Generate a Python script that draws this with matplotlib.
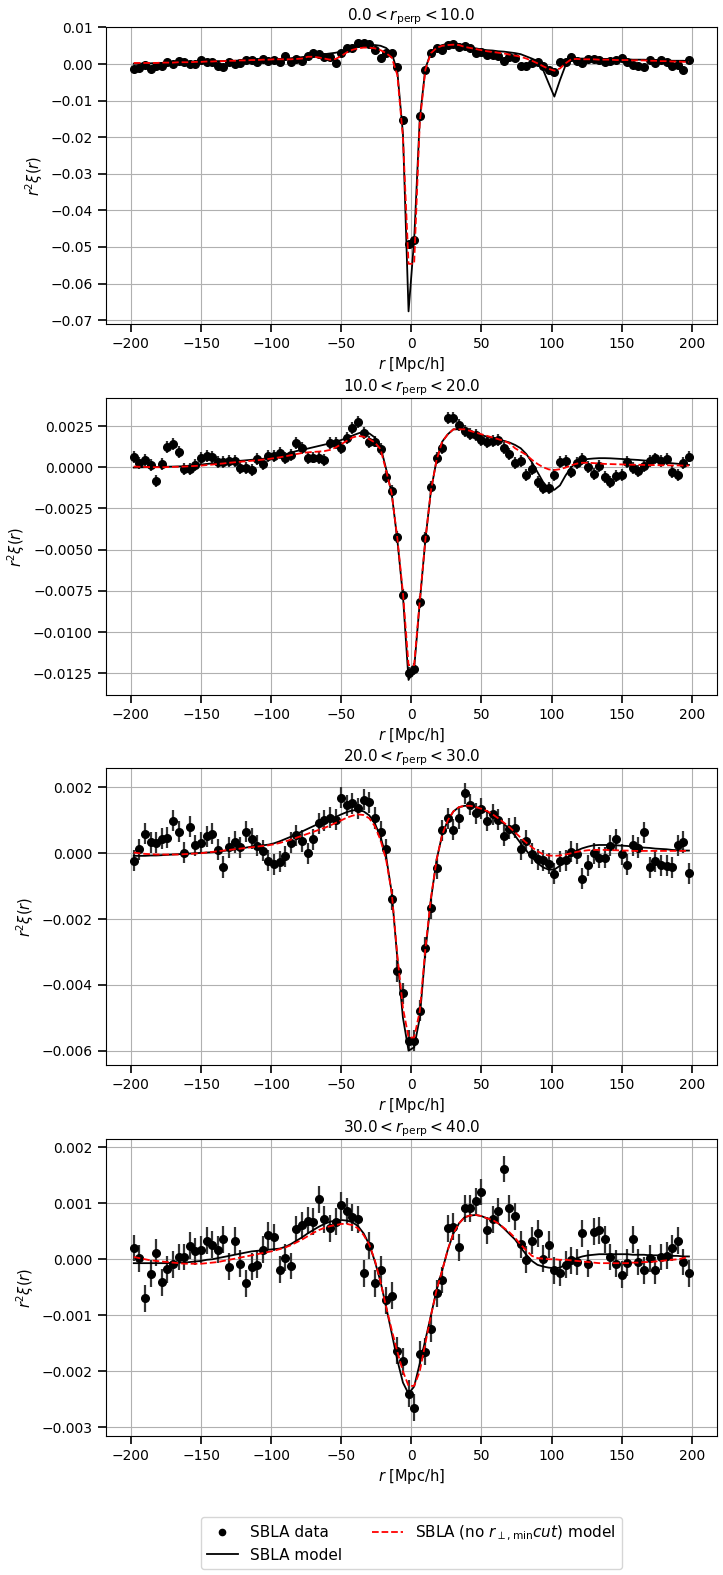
import numpy as np
import matplotlib
matplotlib.use("Agg")
import matplotlib.pyplot as plt
from matplotlib.lines import Line2D

r = np.arange(-198, 199, 4)

titles = [r"$0.0 < r_{\rm perp} < 10.0$", r"$10.0 < r_{\rm perp} < 20.0$",
          r"$20.0 < r_{\rm perp} < 30.0$", r"$30.0 < r_{\rm perp} < 40.0$"]

# ---------------- panel 1 ----------------
data1 = [-0.00146, -0.0010, -0.00037, -0.0013, -0.0006, -0.0004, 0.00046, -0.0001, 0.0009, 0.0005,
         -0.0001, 0.0, 0.0011, 0.0005, 0.0005, -0.0005, -0.0009, 0.0005, 0.0, 0.0003,
         0.0011, 0.0011, 0.0005, 0.0014, 0.0008, 0.0011, 0.0007, 0.0022, 0.0005, 0.0013,
         0.0008, 0.0022, 0.0029, 0.0027, 0.0019, 0.0018, 0.0004, 0.0029, 0.0043, 0.0043,
         0.0058, 0.0058, 0.0055, 0.0038, 0.0016, 0.0029, 0.0030, -0.0007, -0.0152, -0.0491,
         -0.0480, -0.0141, -0.0015, 0.0031, 0.0043, 0.0038, 0.0052, 0.0055, 0.0046, 0.0049,
         0.0043, 0.0029, 0.0032, 0.0025, 0.0025, 0.0022, 0.0008, 0.0018, 0.0017, -0.0005,
         -0.0005, 0.0004, 0.0005, -0.0005, -0.0017, -0.0021, 0.0005, 0.0005, 0.0018, 0.0008,
         0.0002, 0.0013, 0.0013, 0.0011, 0.0006, 0.0009, 0.0011, 0.0016, 0.0005, -0.0003,
         -0.0005, -0.0009, 0.0011, 0.0002, 0.0011, 0.0005, -0.0005, -0.0003, -0.0015, 0.0011]
err1 = [0.0004] * 100
model1 = [0.0001, 0.0001, 0.0002, 0.0002, 0.0003, 0.0003, 0.0004, 0.0004, 0.0005, 0.0005,
          0.0005, 0.0006, 0.0006, 0.0007, 0.0007, 0.0008, 0.0008, 0.0009, 0.0009, 0.0010,
          0.0010, 0.0011, 0.0011, 0.0012, 0.0012, 0.0013, 0.0014, 0.0015, 0.0016, 0.0017,
          0.0019, 0.0021, 0.0023, 0.0025, 0.0027, 0.0029, 0.0031, 0.0034, 0.0038, 0.0043,
          0.0048, 0.0051, 0.0052, 0.0052, 0.0050, 0.0044, 0.0030, -0.0020, -0.0190, -0.0676,
          -0.0480, -0.0150, -0.0012, 0.0032, 0.0046, 0.0052, 0.0055, 0.0055, 0.0054, 0.0048,
          0.0045, 0.0043, 0.0040, 0.0038, 0.0037, 0.0035, 0.0034, 0.0032, 0.0030, 0.0027,
          0.0021, 0.0015, 0.0008, -0.0016, -0.0053, -0.0089, -0.0044, -0.0003, 0.0013, 0.0015,
          0.0015, 0.0015, 0.0015, 0.0014, 0.0014, 0.0014, 0.0013, 0.0013, 0.0013, 0.0012,
          0.0012, 0.0012, 0.0011, 0.0011, 0.0010, 0.0010, 0.0009, 0.0009, 0.0009, 0.0008]
nocut1 = [0.0003, 0.0003, 0.0003, 0.0003, 0.0003, 0.0004, 0.0004, 0.0004, 0.0005, 0.0005,
          0.0005, 0.0006, 0.0006, 0.0007, 0.0007, 0.0008, 0.0008, 0.0009, 0.0009, 0.0010,
          0.0010, 0.0011, 0.0011, 0.0012, 0.0012, 0.0013, 0.0013, 0.0013, 0.0013, 0.0014,
          0.0015, 0.0020, 0.0020, 0.0018, 0.0015, 0.0012, 0.0014, 0.0022, 0.0032, 0.0039,
          0.0043, 0.0045, 0.0045, 0.0043, 0.0038, 0.0030, 0.0018, -0.0030, -0.0200, -0.0546,
          -0.0546, -0.0160, -0.0015, 0.0030, 0.0044, 0.0050, 0.0052, 0.0053, 0.0052, 0.0047,
          0.0044, 0.0041, 0.0038, 0.0035, 0.0033, 0.0031, 0.0029, 0.0026, 0.0023, 0.0020,
          0.0015, 0.0009, 0.0002, -0.0006, -0.0013, -0.0018, -0.0012, 0.0002, 0.0013, 0.0014,
          0.0013, 0.0013, 0.0013, 0.0012, 0.0012, 0.0012, 0.0011, 0.0011, 0.0011, 0.0010,
          0.0010, 0.0010, 0.0009, 0.0009, 0.0008, 0.0008, 0.0007, 0.0007, 0.0006, 0.0006]

# ---------------- panel 2 ----------------
data2 = [0.00063, 0.00024, 0.00044, 0.00012, -0.00083, 0.00018, 0.00123, 0.00141, 0.00093, -0.00012,
         -0.00012, 0.00012, 0.00055, 0.00069, 0.00061, 0.00032, 0.00034, 0.00038, 0.00038, -0.00006,
         -0.00004, -0.00016, 0.00049, 0.00018, 0.00069, 0.00067, 0.00085, 0.00057, 0.00073, 0.00146,
         0.00115, 0.00055, 0.00059, 0.00055, 0.00044, 0.00148, 0.00146, 0.00115, 0.00176, 0.00238,
         0.00273, 0.00206, 0.00152, 0.00156, 0.00109, -0.00061, -0.00146, -0.00424, -0.00772, -0.01249,
         -0.01221, -0.00816, -0.0043, -0.00121, 0.00055, 0.00115, 0.00297, 0.00297, 0.00257, 0.00222,
         0.00202, 0.00196, 0.00166, 0.00152, 0.0016, 0.00166, 0.00119, 0.00081, 0.00024, 0.00038,
         -0.00049, -0.00012, -0.00089, -0.00127, -0.00127, -0.00046, 0.00032, 0.00038, -0.0003, 0.00028,
         0.00049, 0.00004, -0.0004, 0.00008, -0.00057, -0.00089, -0.00055, -0.00049, 0.00034, -0.00006,
         -0.00022, 0.00008, 0.00038, 0.00053, 0.0004, 0.00049, -0.00028, -0.00046, 0.00024, 0.00065]
err2 = [0.00036] * 100
model2 = [-0.00002, -0.00001, 0.0, 0.0, 0.00001, 0.00002, 0.00003, 0.00004, 0.00005, 0.00006,
          0.0001, 0.00013, 0.00016, 0.0002, 0.00023, 0.00026, 0.0003, 0.00033, 0.00036, 0.00039,
          0.00042, 0.00045, 0.00048, 0.00051, 0.00055, 0.0006, 0.00068, 0.00078, 0.00088, 0.00098,
          0.00105, 0.00113, 0.00121, 0.00129, 0.00137, 0.00145, 0.00154, 0.00165, 0.00178, 0.00192,
          0.00205, 0.00216, 0.00205, 0.0018, 0.00125, -0.0001, -0.0016, -0.0044, -0.0078, -0.0129,
          -0.0122, -0.0082, -0.0044, -0.0014, 0.00044, 0.00155, 0.0020, 0.0023, 0.0023, 0.0023,
          0.00215, 0.00205, 0.00195, 0.00185, 0.00178, 0.0017, 0.0016, 0.0015, 0.00135, 0.00115,
          0.0008, 0.0003, -0.0003, -0.0009, -0.0013, -0.00137, -0.0011, -0.0005, 0.0, 0.0003,
          0.00042, 0.0005, 0.00053, 0.00055, 0.00055, 0.00054, 0.00052, 0.0005, 0.00048, 0.00046,
          0.00044, 0.00041, 0.00038, 0.00035, 0.00031, 0.00028, 0.00024, 0.00021, 0.00017, 0.00014]
nocut2 = [0.00004, 0.00003, 0.00002, 0.00001, 0.0, 0.0, 0.00001, 0.00002, 0.00003, 0.00004,
          0.00006, 0.00008, 0.0001, 0.00013, 0.00016, 0.0002, 0.00023, 0.00027, 0.0003, 0.00033,
          0.00036, 0.00039, 0.00042, 0.00046, 0.0005, 0.00055, 0.0006, 0.00066, 0.00073, 0.0008,
          0.00086, 0.0009, 0.00093, 0.00095, 0.00098, 0.00105, 0.0012, 0.0014, 0.0016, 0.0018,
          0.0019, 0.00185, 0.0017, 0.0015, 0.0011, -0.0002, -0.0016, -0.0043, -0.0076, -0.0120,
          -0.0120, -0.0081, -0.0044, -0.0014, 0.00044, 0.00155, 0.0020, 0.0023, 0.0023, 0.0023,
          0.0022, 0.0021, 0.0020, 0.0019, 0.0018, 0.0017, 0.0016, 0.00145, 0.00115, 0.00095,
          0.00075, 0.00045, 0.0002, 0.0, -0.00013, -0.00017, -0.00012, -0.00002, 0.00012, 0.00022,
          0.00027, 0.00027, 0.00025, 0.00023, 0.0002, 0.00019, 0.00018, 0.00017, 0.00016, 0.00015,
          0.00015, 0.00014, 0.00013, 0.00013, 0.00012, 0.00012, 0.00011, 0.00011, 0.0001, 0.0001]

# ---------------- panel 3 ----------------
data3 = [-0.00023, 0.00012, 0.00059, 0.00033, 0.00032, 0.00044, 0.00047, 0.00098, 0.00065, 0.00001,
         0.00081, 0.00024, 0.00032, 0.00051, 0.00059, 0.0001, -0.00042, 0.00018, 0.00034, 0.00018,
         0.00065, 0.00044, 0.00022, 0.00007, -0.00023, -0.00033, -0.00026, -0.0001, 0.00032, 0.00055,
         0.00037, 0.0, 0.00043, 0.00091, 0.001, 0.00108, 0.00101, 0.00168, 0.00145, 0.00152,
         0.00137, 0.00162, 0.00155, 0.00107, 0.00065, 0.00012, -0.0014, -0.00358, -0.00425, -0.0057,
         -0.0057, -0.00479, -0.00287, -0.00167, -0.00046, 0.00069, 0.00106, 0.00071, 0.00106, 0.00182,
         0.00147, 0.00122, 0.00135, 0.00098, 0.00119, 0.00101, 0.00053, 0.00075, 0.00077, 0.00012,
         0.00038, -0.00002, -0.00018, -0.00022, -0.00032, -0.00062, -0.00024, -0.00022, 0.00004, -0.00002,
         -0.00078, -0.00036, 0.0, -0.00014, -0.00014, 0.00022, 0.00043, -0.00003, -0.00035, 0.00024,
         0.00016, 0.00063, -0.00043, -0.00024, -0.00036, -0.00038, -0.00043, 0.00024, 0.00034, -0.00061]
err3 = [0.00032] * 100
model3 = [-0.00008, -0.00008, -0.00008, -0.00007, -0.00007, -0.00006, -0.00005, -0.00004, -0.00003, -0.00002,
          -0.00001, 0.0, 0.00001, 0.00002, 0.00003, 0.00005, 0.00007, 0.00009, 0.00011, 0.00014,
          0.00017, 0.0002, 0.00022, 0.00024, 0.00026, 0.0003, 0.00036, 0.00043, 0.0005, 0.00058,
          0.00066, 0.00074, 0.00082, 0.0009, 0.00097, 0.00104, 0.0011, 0.00118, 0.00125, 0.0013,
          0.00131, 0.00127, 0.00115, 0.0009, 0.0005, -0.0001, -0.0012, -0.0032, -0.0050, -0.0060,
          -0.0059, -0.0050, -0.0030, -0.0014, -0.0002, 0.00056, 0.001, 0.00127, 0.0014, 0.00144,
          0.00144, 0.0014, 0.00134, 0.00126, 0.00116, 0.00103, 0.00089, 0.00073, 0.00053, 0.0003,
          0.00008, -0.00012, -0.0003, -0.00043, -0.0005, -0.0005, -0.00038, -0.0002, -0.00003, 0.00008,
          0.00015, 0.0002, 0.00024, 0.00025, 0.00025, 0.00025, 0.00024, 0.00023, 0.00022, 0.0002,
          0.00019, 0.00017, 0.00016, 0.00014, 0.00013, 0.00012, 0.0001, 0.00009, 0.00008, 0.00008]
nocut3 = [0.00002, 0.0, -0.00002, -0.00003, -0.00004, -0.00004, -0.00004, -0.00004, -0.00004, -0.00003,
          -0.00002, -0.00001, 0.0, 0.00002, 0.00004, 0.00006, 0.00008, 0.0001, 0.00012, 0.00014,
          0.00016, 0.00018, 0.0002, 0.00022, 0.00024, 0.00027, 0.00031, 0.00036, 0.00041, 0.00047,
          0.00053, 0.00059, 0.00065, 0.00071, 0.00077, 0.00084, 0.00092, 0.001, 0.00108, 0.00114,
          0.00118, 0.00116, 0.00106, 0.00082, 0.0004, -0.0002, -0.0012, -0.0031, -0.0047, -0.0056,
          -0.0056, -0.0048, -0.0029, -0.00135, -0.0002, 0.00056, 0.001, 0.00127, 0.0014, 0.00144,
          0.00144, 0.0014, 0.00135, 0.00128, 0.00118, 0.00106, 0.00093, 0.00079, 0.00063, 0.00047,
          0.00032, 0.00018, 0.00006, -0.00003, -0.00007, -0.00008, -0.00007, -0.00004, 0.0, 0.00004,
          0.00007, 0.00009, 0.0001, 0.0001, 0.0001, 0.00009, 0.00009, 0.00008, 0.00008, 0.00007,
          0.00007, 0.00007, 0.00007, 0.00007, 0.00007, 0.00007, 0.00007, 0.00007, 0.00007, 0.00007]

# ---------------- panel 4 ----------------
data4 = [0.0002, 0.00002, -0.0007, -0.00026, 0.00012, -0.00041, -0.00018, -0.00009, 0.00004, 0.00004,
         0.00024, 0.00014, 0.00017, 0.00033, 0.00026, 0.00017, 0.00036, -0.00013, 0.00033, -0.00008,
         -0.00043, -0.00013, -0.0001, 0.00017, 0.00043, 0.00039, -0.00019, 0.00003, -0.00012, 0.00054,
         0.00061, 0.00069, 0.00067, 0.00107, 0.00071, 0.00055, 0.00067, 0.00096, 0.00086, 0.00075,
         0.00071, -0.00025, 0.00024, -0.00043, -0.00019, -0.00073, -0.00065, -0.00163, -0.00182, -0.0024,
         -0.00265, -0.00169, -0.00165, -0.00124, -0.00061, -0.00037, 0.00055, 0.00058, 0.00021, 0.00091,
         0.00091, 0.00104, 0.0012, 0.00052, 0.00071, 0.00086, 0.00161, 0.00091, 0.00077, 0.00027,
         -0.00001, 0.00033, 0.00046, 0.00001, 0.00026, -0.0002, -0.00024, -0.0001, -0.00002, -0.00005,
         0.00046, -0.00008, 0.00049, 0.00052, 0.00036, 0.00004, -0.00008, -0.00028, -0.00006, 0.00036,
         -0.00005, -0.0002, 0.00002, -0.0002, 0.00004, 0.00006, 0.0002, 0.00033, -0.00005, -0.00025]
err4 = [0.00024] * 100
model4 = [-0.00007, -0.00007, -0.00007, -0.00007, -0.00007, -0.00007, -0.00007, -0.00006, -0.00006, -0.00006,
          -0.00005, -0.00004, -0.00003, -0.00001, 0.0, 0.00002, 0.00004, 0.00006, 0.00008, 0.0001,
          0.00012, 0.00014, 0.00015, 0.00016, 0.00017, 0.00018, 0.00019, 0.00022, 0.00027, 0.00033,
          0.00039, 0.00046, 0.00052, 0.00058, 0.00063, 0.00067, 0.00069, 0.0007, 0.00069, 0.00066,
          0.00059, 0.00046, 0.00026, -0.00004, -0.0004, -0.00085, -0.00132, -0.0018, -0.0022, -0.0024,
          -0.00227, -0.00186, -0.00144, -0.001, -0.00055, -0.0002, 0.00017, 0.00046, 0.00064, 0.00075,
          0.00078, 0.00079, 0.00077, 0.00073, 0.00071, 0.00064, 0.00055, 0.00045, 0.00035, 0.00021,
          0.00008, -0.00003, -0.0001, -0.00013, -0.00015, -0.00016, -0.00015, -0.00009, -0.00003, 0.00002,
          0.00005, 0.00007, 0.00008, 0.00009, 0.00009, 0.00009, 0.00009, 0.00009, 0.00009, 0.00008,
          0.00008, 0.00008, 0.00007, 0.00007, 0.00007, 0.00006, 0.00006, 0.00006, 0.00005, 0.00005]
nocut4 = [0.00004, 0.00002, 0.0, -0.00002, -0.00003, -0.00004, -0.00005, -0.00006, -0.00007, -0.00008,
          -0.00008, -0.00008, -0.00008, -0.00007, -0.00006, -0.00005, -0.00003, -0.00001, 0.00001, 0.00003,
          0.00005, 0.00007, 0.00009, 0.00011, 0.00013, 0.00015, 0.00018, 0.00021, 0.00025, 0.0003,
          0.00035, 0.00041, 0.00047, 0.00052, 0.00056, 0.00059, 0.00061, 0.00063, 0.00063, 0.00061,
          0.00055, 0.00043, 0.00026, -0.00002, -0.0004, -0.00085, -0.00126, -0.00165, -0.002, -0.00226,
          -0.00226, -0.002, -0.0015, -0.001, -0.00055, -0.0002, 0.00017, 0.00046, 0.00064, 0.00075,
          0.00078, 0.00079, 0.00077, 0.00073, 0.0007, 0.00064, 0.00056, 0.00048, 0.00038, 0.00026,
          0.00016, 0.00006, 0.00002, 0.00001, 0.0, 0.0, -0.00001, -0.00001, -0.00002, -0.00003,
          -0.00004, -0.00005, -0.00006, -0.00007, -0.00007, -0.00007, -0.00007, -0.00007, -0.00007, -0.00006,
          -0.00006, -0.00005, -0.00005, -0.00004, -0.00003, -0.00002, -0.00001, 0.0, 0.00002, 0.00004]

# y tick positions for each panel
yticks1 = [0.01, 0.0, -0.01, -0.02, -0.03, -0.04, -0.05, -0.06, -0.07]
yticks2 = [0.0025, 0.0, -0.0025, -0.005, -0.0075, -0.01, -0.0125]
yticks3 = [0.002, 0.0, -0.002, -0.004, -0.006]
yticks4 = [0.002, 0.001, 0.0, -0.001, -0.002, -0.003]

datas = [data1, data2, data3, data4]
errs = [err1, err2, err3, err4]
models = [model1, model2, model3, model4]
nocuts = [nocut1, nocut2, nocut3, nocut4]
yticks = [yticks1, yticks2, yticks3, yticks4]
ylims = [(-0.0710, 0.01005), (-0.0138, 0.00418), (-0.00643, 0.00258), (-0.00315, 0.00214)]

W, H = 723, 1575
fig = plt.figure(figsize=(W / 100, H / 100), dpi=100)
left = 106 / W
width = (716.7 - 106) / W
tops = [27.3, 398.3, 768.3, 1139.3]
ah = 296.5

for k in range(4):
    ax = fig.add_axes([left, 1 - (tops[k] + ah) / H, width, ah / H])
    ax.grid(True, color='#b0b0b0', lw=0.8, zorder=0)
    ax.set_axisbelow(True)
    ax.errorbar(r, datas[k], yerr=errs[k], fmt='o', color='k', ms=5.5,
                ecolor='#333333', elinewidth=1.6, capsize=0, zorder=2)
    ax.plot(r, models[k], color='k', lw=1.3, zorder=3)
    ax.plot(r, nocuts[k], color='red', ls='--', lw=1.3, zorder=4)
    ax.set_xlim(-217.8, 217.8)
    ax.set_yticks(yticks[k])
    ax.set_ylim(*ylims[k])
    ax.set_xticks([-200, -150, -100, -50, 0, 50, 100, 150, 200])
    ax.tick_params(axis='both', which='major', length=6, width=1.2, labelsize=10)
    ax.set_xlabel(r"$r$ [Mpc/h]", fontsize=10.5, labelpad=3)
    ax.set_ylabel(r"$r^2\xi(r)$", fontsize=10.5)
    ax.set_title(titles[k], fontsize=11, pad=5)

handles = [Line2D([], [], marker='o', color='k', ls='none', ms=4.5),
           Line2D([], [], color='k', lw=1.3),
           Line2D([], [], color='red', ls='--', lw=1.3)]
labels = ["SBLA data", "SBLA model", r"SBLA (no $r_{\perp,\rm min} cut$) model"]
fig.legend(handles, labels, loc='center', ncol=2, fontsize=11,
           bbox_to_anchor=((106 + 716.7) / 2 / W, (H - 1543) / H), frameon=True)

fig.savefig("out.png", dpi=100)
